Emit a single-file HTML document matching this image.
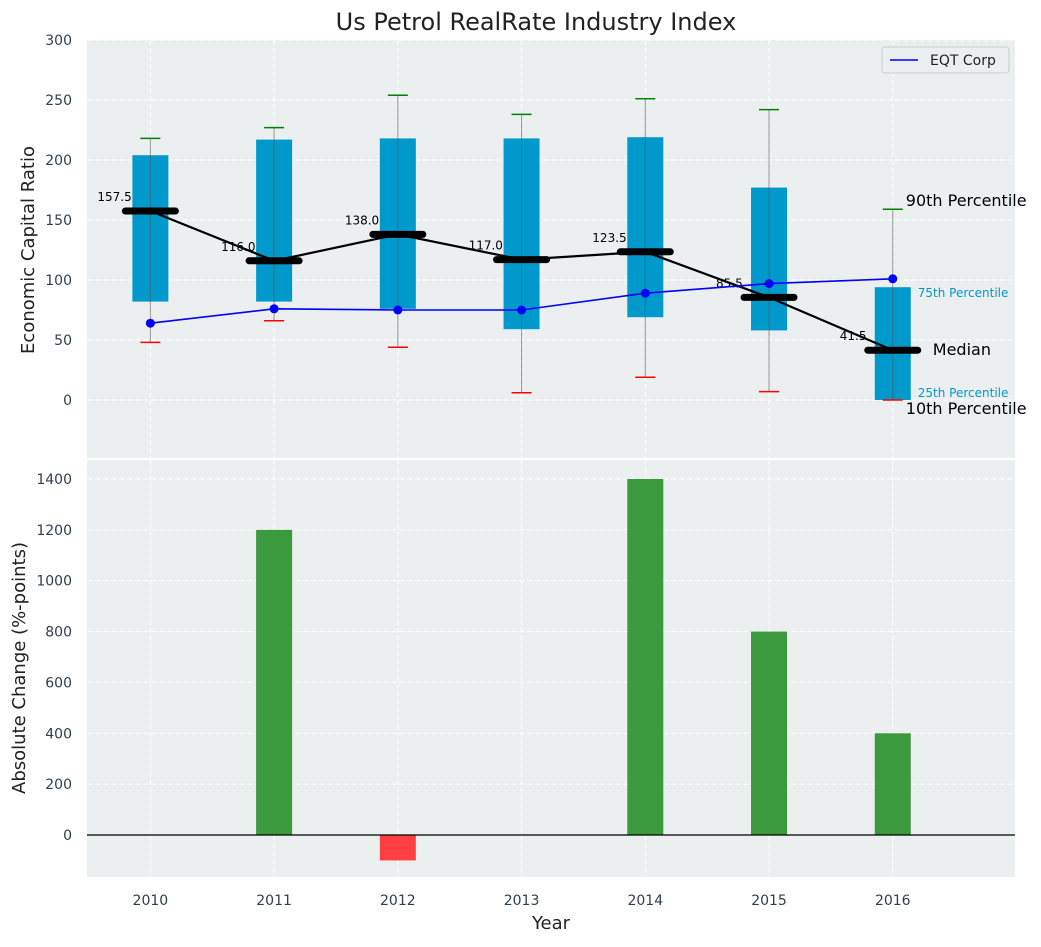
<!DOCTYPE html>
<html><head><meta charset="utf-8"><style>
body{margin:0;background:#fff;font-family:"Liberation Sans","DejaVu Sans",sans-serif;}
svg text{font-family:"DejaVu Sans","Liberation Sans",sans-serif;}
</style></head><body>
<svg id="c" width="1041" height="942" xmlns="http://www.w3.org/2000/svg">
<text x="536" y="30" text-anchor="middle" font-size="24" fill="#222">Us Petrol RealRate Industry Index</text>
<g id="topPanel"></g>
<g id="botPanel"></g>
</svg>
<script>
const years=[2010,2011,2012,2013,2014,2015,2016];
const p10=[48,66,44,6,19,7,0];
const p25=[82,82,76,59,69,58,0];
const p50=[157.5,116,138,117,123.5,85.5,41.5];
const p75=[204,217,218,218,219,177,94];
const p90=[218,227,254,238,251,242,159];
const eqt=[64,76,75,75,89,97,101];
const changes=[0,1200,-100,0,1400,800,400];
const yTicksTop=[0,50,100,150,200,250,300];
const yTicksBot=[0,200,400,600,800,1000,1200,1400];

const NS="http://www.w3.org/2000/svg";
const L=87,R=1015;
const x=v=>L+(v-2009.5)/(2017-2009.5)*(R-L)+1.5;
const yT=v=>400-v*1.2;
const yB=v=>835-v*(356/1400);
function el(p,t,a,txt){const e=document.createElementNS(NS,t);for(const k in a)e.setAttribute(k,a[k]);if(txt!=null)e.textContent=txt;p.appendChild(e);return e;}
const topG=document.getElementById('topPanel'),botG=document.getElementById('botPanel');

let bg=el(topG,'rect',{x:L,y:40,width:R-L,height:418,fill:'#ebeff0'});

let bg2=el(botG,'rect',{x:L,y:460,width:R-L,height:417,fill:'#ebeff0'});


years.forEach(v=>{
  el(topG,'line',{x1:x(v),x2:x(v),y1:40,y2:458,stroke:'#fff','stroke-dasharray':'5,3','stroke-width':1});
  el(botG,'line',{x1:x(v),x2:x(v),y1:460,y2:877,stroke:'#fff','stroke-dasharray':'5,3','stroke-width':1});
  let t=el(botG,'text',{x:x(v),y:905,'text-anchor':'middle','font-size':14,fill:'#2f3e4e'},v);
  
});
yTicksTop.forEach(v=>{
  el(topG,'line',{x1:L,x2:R,y1:yT(v),y2:yT(v),stroke:'#fff','stroke-dasharray':'5,3','stroke-width':1});
  let t=el(topG,'text',{x:72,y:yT(v)+5,'text-anchor':'end','font-size':14,fill:'#2f3e4e'},v);
  
});
yTicksBot.forEach(v=>{
  el(botG,'line',{x1:L,x2:R,y1:yB(v),y2:yB(v),stroke:'#fff','stroke-dasharray':'5,3','stroke-width':1});
  let t=el(botG,'text',{x:72,y:yB(v)+5,'text-anchor':'end','font-size':14,fill:'#2f3e4e'},v);
  
});

const bw=36;
years.forEach((v,i)=>{
  let b=el(topG,'rect',{x:x(v)-bw/2,y:yT(p75[i]),width:bw,height:yT(p25[i])-yT(p75[i]),fill:'#0099cc'});
  
  el(topG,'line',{x1:x(v),x2:x(v),y1:yT(p10[i]),y2:yT(p90[i]),stroke:'#555','stroke-opacity':0.6,'stroke-width':1});
  let c1=el(topG,'line',{x1:x(v)-10,x2:x(v)+10,y1:yT(p90[i]),y2:yT(p90[i]),stroke:'green','stroke-width':1.5});
  
  let c2=el(topG,'line',{x1:x(v)-10,x2:x(v)+10,y1:yT(p10[i]),y2:yT(p10[i]),stroke:'red','stroke-width':1.5});
  
});
let mp=el(topG,'polyline',{points:years.map((v,i)=>x(v)+','+yT(p50[i])).join(' '),fill:'none',stroke:'#000','stroke-width':2.2});

years.forEach((v,i)=>{
  let m=el(topG,'line',{x1:x(v)-25,x2:x(v)+25,y1:yT(p50[i]),y2:yT(p50[i]),stroke:'#000','stroke-width':7,'stroke-linecap':'round'});
  
  let t=el(topG,'text',{x:x(v)-53,y:yT(p50[i])-10,'font-size':12,fill:'#000'},p50[i].toFixed(1));
  
});
let ep=el(topG,'polyline',{points:years.map((v,i)=>x(v)+','+yT(eqt[i])).join(' '),fill:'none',stroke:'#0000ff','stroke-width':1.6});

years.forEach((v,i)=>{
  let d=el(topG,'circle',{cx:x(v),cy:yT(eqt[i]),r:4.5,fill:'#0000ff'});
  
});
const last=years.length-1,xl=x(years[last]);
[[p90[last],'90th Percentile',13,'#000',16,-3],[p75[last],'75th Percentile',25,'#0099cc',12,10],[p50[last],'Median',40,'#000',16,5],[p25[last],'25th Percentile',25,'#0099cc',12,-3],[p10[last],'10th Percentile',13,'#000',16,14]].forEach(a=>{
  let t=el(topG,'text',{x:xl+a[2],y:yT(a[0])+a[5],'font-size':a[4],fill:a[3]},a[1]);
  
});
let lg=el(topG,'g',{});
el(lg,'rect',{x:882,y:47,width:127,height:26,rx:3,fill:'#ebeff0',stroke:'#ccc'});
el(lg,'line',{x1:890,x2:918,y1:60,y2:60,stroke:'#0000ff','stroke-width':1.6});
el(lg,'text',{x:930,y:65,'font-size':14,fill:'#222'},'EQT Corp');

years.forEach((v,i)=>{
  const val=changes[i];if(val===0)return;
  const y0=yB(Math.max(val,0)),h=Math.abs(yB(val)-yB(0));
  let b=el(botG,'rect',{x:x(v)-18,y:y0,width:36,height:h,fill:val>0?'#3a9a3d':'#ff4040'});
  
});
el(botG,'line',{x1:L,x2:R,y1:yB(0),y2:yB(0),stroke:'#000','stroke-width':1.2});

let a1=el(topG,'text',{x:34,y:250,'text-anchor':'middle','font-size':18,fill:'#222',transform:'rotate(-90 34 250)'},'Economic Capital Ratio');

let a2=el(botG,'text',{x:25,y:668,'text-anchor':'middle','font-size':18,fill:'#222',transform:'rotate(-90 25 668)'},'Absolute Change (%-points)');

let a3=el(botG,'text',{x:551,y:929,'text-anchor':'middle','font-size':18,fill:'#222'},'Year');

</script>
</body></html>
